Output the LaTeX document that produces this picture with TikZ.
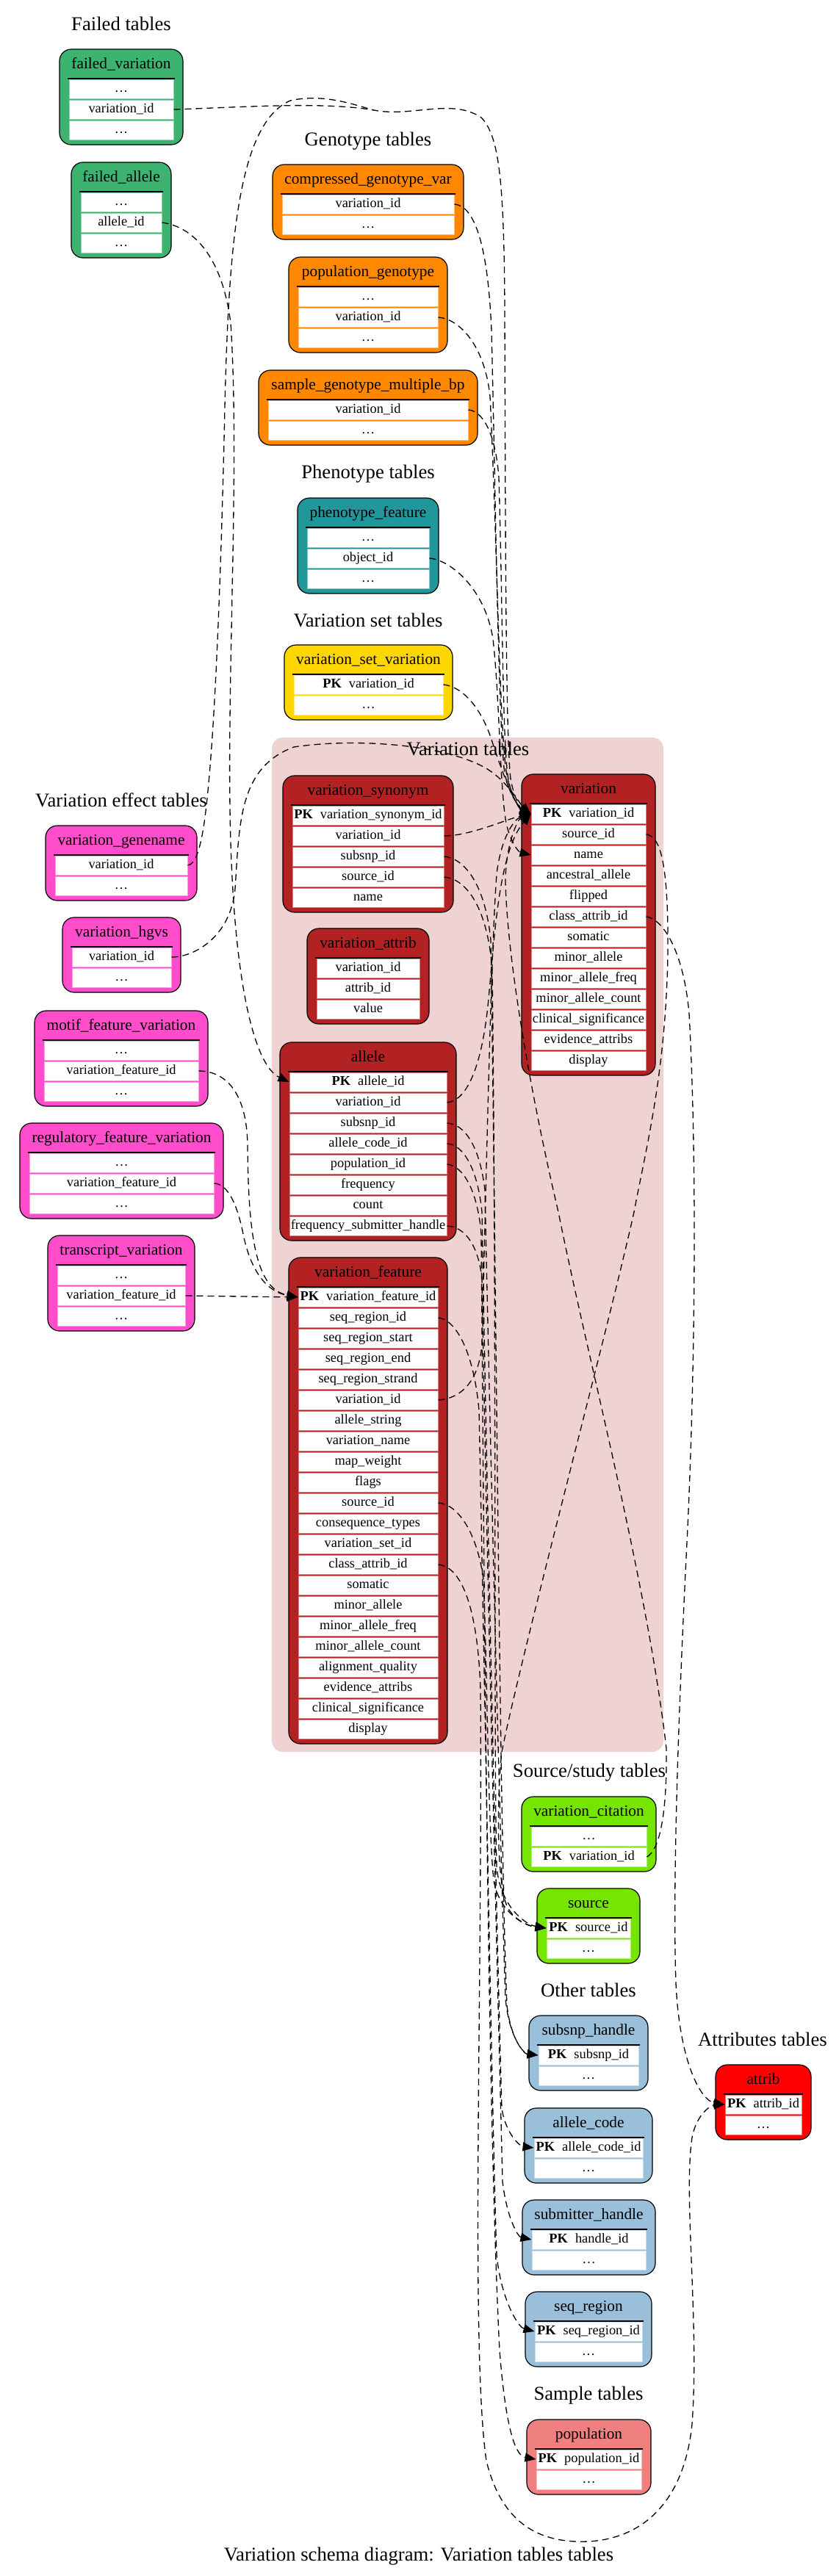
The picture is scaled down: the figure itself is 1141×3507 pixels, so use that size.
\documentclass[tikz,border=0pt]{standalone}
\usepackage{fontspec}
\setmainfont{Liberation Serif}
\usetikzlibrary{arrows.meta}
\definecolor{cFail}{HTML}{3CB371}
\definecolor{cGeno}{HTML}{FF8800}
\definecolor{cPheno}{HTML}{22979B}
\definecolor{cVset}{HTML}{FFD700}
\definecolor{cEff}{HTML}{FF4DCB}
\definecolor{cVar}{HTML}{B22222}
\definecolor{cClu}{HTML}{EFD3D3}
\definecolor{cSrc}{HTML}{76E600}
\definecolor{cOther}{HTML}{9ABFDA}
\definecolor{cAttr}{HTML}{FF0000}
\definecolor{cPop}{HTML}{F08080}
\newcommand{\pkrow}[1]{\textbf{PK}\hspace{10pt}#1}
\tikzset{
  tabbox/.style={draw=black, line width=1.2pt, rounded corners=16pt},
  hdr/.style={font=\fontsize{21.33}{24}\selectfont, inner sep=0pt, text height=14.5pt, text depth=5pt},
  cellst/.style={fill=white, line width=1pt, minimum height=26pt, inner sep=0pt, text height=13pt, text depth=4.5pt, font=\fontsize{18.4}{20}\selectfont},
  ttl/.style={font=\fontsize{26.67}{30}\selectfont, inner sep=0pt, text height=18pt, text depth=6pt},
  fkn/.style={dash pattern=on 9pt off 6pt, line width=1.3pt},
  fk/.style={fkn, -{Triangle[length=15pt,width=12pt]}},
}
\newcommand{\dbtab}[8]{%
  \pgfmathsetmacro{\tabB}{#4+41+#5*28+5}%
  \pgfmathsetmacro{\tabC}{(#2+#3)/2}%
  \pgfmathsetmacro{\tabW}{#3-#2-26}%
  \draw[tabbox, fill=#6] (#2,#4) rectangle (#3,\tabB);
  \node[hdr] (#1-h) at (\tabC,#4+22) {#7};
  \draw[line width=1.5pt] (#2+11,#4+40) -- (#3-11,#4+40);
  \foreach \rt [count=\ri] in {#8} {
    \node[cellst, draw=#6!55!white, minimum width=\tabW pt] (#1-\ri) at (\tabC,{#4+41+(\ri-1)*28+13}) {\rt};
  }%
}
\begin{document}
\begin{tikzpicture}[x=1pt,y=-1pt]
\useasboundingbox (0,0) rectangle (1141,3507);
\fill[white] (0,0) rectangle (1141,3507);
% cluster
\fill[cClu, rounded corners=15pt] (370,1004) rectangle (903,2385);
% titles
\node[ttl] (t-fail) at (165,35) {Failed tables};
\node[ttl] (t-geno) at (501,192) {Genotype tables};
\node[ttl] (t-pheno) at (501,645) {Phenotype tables};
\node[ttl] (t-vset) at (501,847) {Variation set tables};
\node[ttl] (t-eff) at (165,1092) {Variation effect tables};
\node[ttl] (t-var) at (637,1022) {Variation tables};
\node[ttl] (t-src) at (802,2413) {Source/study tables};
\node[ttl] (t-oth) at (801,2712) {Other tables};
\node[ttl] (t-att) at (1038,2779) {Attributes tables};
\node[ttl] (t-smp) at (801,3261) {Sample tables};
\node[ttl] (t-cap) at (570,3480) {Variation schema diagram: Variation tables tables};
% tables
\dbtab{fv}{81}{249}{67}{3}{cFail}{failed\_variation}{\ldots,variation\_id,\ldots}
\dbtab{fa}{97}{233}{221}{3}{cFail}{failed\_allele}{\ldots,allele\_id,\ldots}
\dbtab{cgv}{371}{631}{224}{2}{cGeno}{compressed\_genotype\_var}{variation\_id,\ldots}
\dbtab{pg}{393}{609}{350}{3}{cGeno}{population\_genotype}{\ldots,variation\_id,\ldots}
\dbtab{sg}{352}{650}{504}{2}{cGeno}{sample\_genotype\_multiple\_bp}{variation\_id,\ldots}
\dbtab{pf}{405}{597}{678}{3}{cPheno}{phenotype\_feature}{\ldots,object\_id,\ldots}
\dbtab{vsv}{387}{616}{878}{2}{cVset}{variation\_set\_variation}{\pkrow{variation\_id},\ldots}
\dbtab{vgn}{62}{268}{1124}{2}{cEff}{variation\_genename}{variation\_id,\ldots}
\dbtab{vh}{85}{246}{1249}{2}{cEff}{variation\_hgvs}{variation\_id,\ldots}
\dbtab{mfv}{47}{283}{1376}{3}{cEff}{motif\_feature\_variation}{\ldots,variation\_feature\_id,\ldots}
\dbtab{rfv}{27}{304}{1529}{3}{cEff}{regulatory\_feature\_variation}{\ldots,variation\_feature\_id,\ldots}
\dbtab{tv}{65}{265}{1682}{3}{cEff}{transcript\_variation}{\ldots,variation\_feature\_id,\ldots}
\dbtab{vs}{385}{617}{1056}{5}{cVar}{variation\_synonym}{\pkrow{variation\_synonym\_id},variation\_id,subsnp\_id,source\_id,name}
\dbtab{va}{418}{584}{1264}{3}{cVar}{variation\_attrib}{variation\_id,attrib\_id,value}
\dbtab{al}{381}{621}{1419}{8}{cVar}{allele}{\pkrow{allele\_id},variation\_id,subsnp\_id,allele\_code\_id,population\_id,frequency,count,frequency\_submitter\_handle}
\dbtab{vf}{393}{609}{1712}{22}{cVar}{variation\_feature}{\pkrow{variation\_feature\_id},seq\_region\_id,seq\_region\_start,seq\_region\_end,seq\_region\_strand,variation\_id,allele\_string,variation\_name,map\_weight,flags,source\_id,consequence\_types,variation\_set\_id,class\_attrib\_id,somatic,minor\_allele,minor\_allele\_freq,minor\_allele\_count,alignment\_quality,evidence\_attribs,clinical\_significance,display}
\dbtab{var}{710}{892}{1054}{13}{cVar}{variation}{\pkrow{variation\_id},source\_id,name,ancestral\_allele,flipped,class\_attrib\_id,somatic,minor\_allele,minor\_allele\_freq,minor\_allele\_count,clinical\_significance,evidence\_attribs,display}
\dbtab{vc}{710}{893}{2446}{2}{cSrc}{variation\_citation}{\ldots,\pkrow{variation\_id}}
\dbtab{src}{731}{871}{2571}{2}{cSrc}{source}{\pkrow{source\_id},\ldots}
\dbtab{sh}{720}{882}{2744}{2}{cOther}{subsnp\_handle}{\pkrow{subsnp\_id},\ldots}
\dbtab{ac}{714}{888}{2870}{2}{cOther}{allele\_code}{\pkrow{allele\_code\_id},\ldots}
\dbtab{sub}{711}{892}{2995}{2}{cOther}{submitter\_handle}{\pkrow{handle\_id},\ldots}
\dbtab{sr}{715}{887}{3120}{2}{cOther}{seq\_region}{\pkrow{seq\_region\_id},\ldots}
\dbtab{pop}{717}{886}{3294}{2}{cPop}{population}{\pkrow{population\_id},\ldots}
\dbtab{at}{974}{1104}{2811}{2}{cAttr}{attrib}{\pkrow{attrib\_id},\ldots}
% connectors
\coordinate (mergeA) at (509,150);
\draw[fk] (fv-2.east) .. controls (330,146) and (440,138) .. (mergeA) .. controls (560,160) and (615,133) .. (655,160) .. controls (680,185) and (686,250) .. (687,420) .. controls (688,700) and (688,1000) .. (695,1060) .. controls (700,1090) and (712,1104) .. (var-1.west);
\draw[fkn] (vgn-1.east) .. controls (265,1177) and (272,1160) .. (278,1120) .. controls (292,1020) and (300,800) .. (305,600) .. controls (310,350) and (320,170) .. (395,137) .. controls (440,127) and (480,142) .. (mergeA);
\draw[fk] (fa-2.east) .. controls (260,308) and (302,345) .. (314,440) .. controls (326,620) and (310,900) .. (313,1100) .. controls (316,1330) and (345,1450) .. (al-1.west);
\draw[fk] (vh-1.east) .. controls (265,1303) and (314,1275) .. (320,1210) .. controls (326,1120) and (325,1045) .. (400,1017) .. controls (480,1005) and (600,1012) .. (660,1045) .. controls (690,1062) and (708,1095) .. (var-1.west);
\draw[fk] (mfv-2.east) .. controls (300,1458) and (336,1478) .. (337,1560) .. controls (338,1690) and (350,1755) .. (vf-1.west);
\draw[fk] (rfv-2.east) .. controls (312,1612) and (324,1645) .. (331,1680) .. controls (340,1725) and (360,1758) .. (vf-1.west);
\draw[fk] (tv-2.east) -- (vf-1.west);
\draw[fk] (cgv-1.east) .. controls (645,280) and (664,330) .. (669,450) .. controls (675,700) and (678,960) .. (686,1045) .. controls (690,1080) and (708,1100) .. (var-1.west);
\draw[fk] (pg-2.east) .. controls (625,434) and (660,470) .. (667,540) .. controls (676,720) and (680,990) .. (689,1050) .. controls (694,1082) and (708,1102) .. (var-1.west);
\draw[fk] (sg-1.east) .. controls (655,559) and (674,585) .. (679,650) .. controls (684,820) and (684,1000) .. (691,1055) .. controls (695,1085) and (708,1102) .. (var-1.west);
\draw[fk] (pf-2.east) .. controls (612,762) and (660,800) .. (671,870) .. controls (680,950) and (680,1060) .. (688,1115) .. controls (693,1145) and (706,1160) .. (var-3.west);
\draw[fk] (vsv-1.east) .. controls (632,935) and (657,968) .. (670,1010) .. controls (683,1050) and (700,1095) .. (var-1.west);
\draw[fk] (vs-2.east) .. controls (640,1138) and (690,1115) .. (var-1.west);
\draw[fk] (al-2.east) .. controls (638,1498) and (656,1445) .. (664,1370) .. controls (673,1280) and (678,1160) .. (var-1.west);
\draw[fk] (vf-6.east) .. controls (628,1904) and (652,1880) .. (656,1830) .. controls (662,1600) and (668,1300) .. (676,1190) .. controls (682,1140) and (700,1115) .. (var-1.west);
\draw[fk] (vc-2.east) .. controls (898,2518) and (908,2470) .. (907,2380) .. controls (880,2150) and (800,1850) .. (760,1650) .. controls (720,1480) and (690,1300) .. (688,1200) .. controls (688,1150) and (705,1115) .. (var-1.west);
\draw[fk] (var-2.east) .. controls (900,1138) and (910,1180) .. (909,1300) .. controls (906,1460) and (880,1560) .. (863,1650) .. controls (830,1800) and (710,2250) .. (683,2385) .. controls (676,2450) and (676,2560) .. (690,2595) .. controls (700,2615) and (720,2622) .. (src-1.west);
\draw[fk] (var-6.east) .. controls (900,1250) and (930,1290) .. (938,1380) .. controls (950,1600) and (945,1900) .. (935,2100) .. controls (925,2300) and (915,2550) .. (920,2700) .. controls (925,2810) and (955,2860) .. (at-1.west);
\draw[fk] (vf-14.east) .. controls (625,2132) and (650,2180) .. (654,2300) .. controls (657,2700) and (640,3200) .. (662,3350) .. controls (685,3445) and (745,3462) .. (800,3460) .. controls (880,3456) and (932,3400) .. (942,3300) .. controls (952,3160) and (930,2990) .. (942,2910) .. controls (948,2878) and (968,2866) .. (at-1.west);
\draw[fk] (vs-3.east) .. controls (630,1168) and (660,1200) .. (668,1280) .. controls (675,1700) and (680,2500) .. (690,2730) .. controls (695,2775) and (712,2795) .. (sh-1.west);
\draw[fk] (vs-4.east) .. controls (632,1196) and (663,1230) .. (670,1320) .. controls (676,1800) and (672,2400) .. (676,2540) .. controls (680,2595) and (715,2620) .. (src-1.west);
\draw[fk] (al-3.east) .. controls (632,1530) and (653,1560) .. (660,1620) .. controls (668,2000) and (682,2550) .. (688,2720) .. controls (692,2770) and (712,2796) .. (sh-1.west);
\draw[fk] (al-4.east) .. controls (630,1558) and (650,1590) .. (656,1650) .. controls (664,2100) and (678,2700) .. (683,2870) .. controls (688,2905) and (708,2922) .. (ac-1.west);
\draw[fk] (al-5.east) .. controls (630,1587) and (650,1620) .. (655,1680) .. controls (660,2300) and (665,2900) .. (680,3200) .. controls (688,3300) and (700,3343) .. (pop-1.west);
\draw[fk] (al-8.east) .. controls (630,1670) and (650,1690) .. (656,1740) .. controls (664,2200) and (680,2800) .. (684,2970) .. controls (690,3020) and (705,3045) .. (sub-1.west);
\draw[fk] (vf-2.east) .. controls (620,1796) and (645,1840) .. (652,1920) .. controls (660,2300) and (670,2900) .. (676,3070) .. controls (682,3130) and (705,3168) .. (sr-1.west);
\draw[fk] (vf-11.east) .. controls (625,2048) and (650,2090) .. (658,2150) .. controls (664,2300) and (664,2480) .. (672,2560) .. controls (680,2605) and (715,2622) .. (src-1.west);
\end{tikzpicture}
\end{document}
